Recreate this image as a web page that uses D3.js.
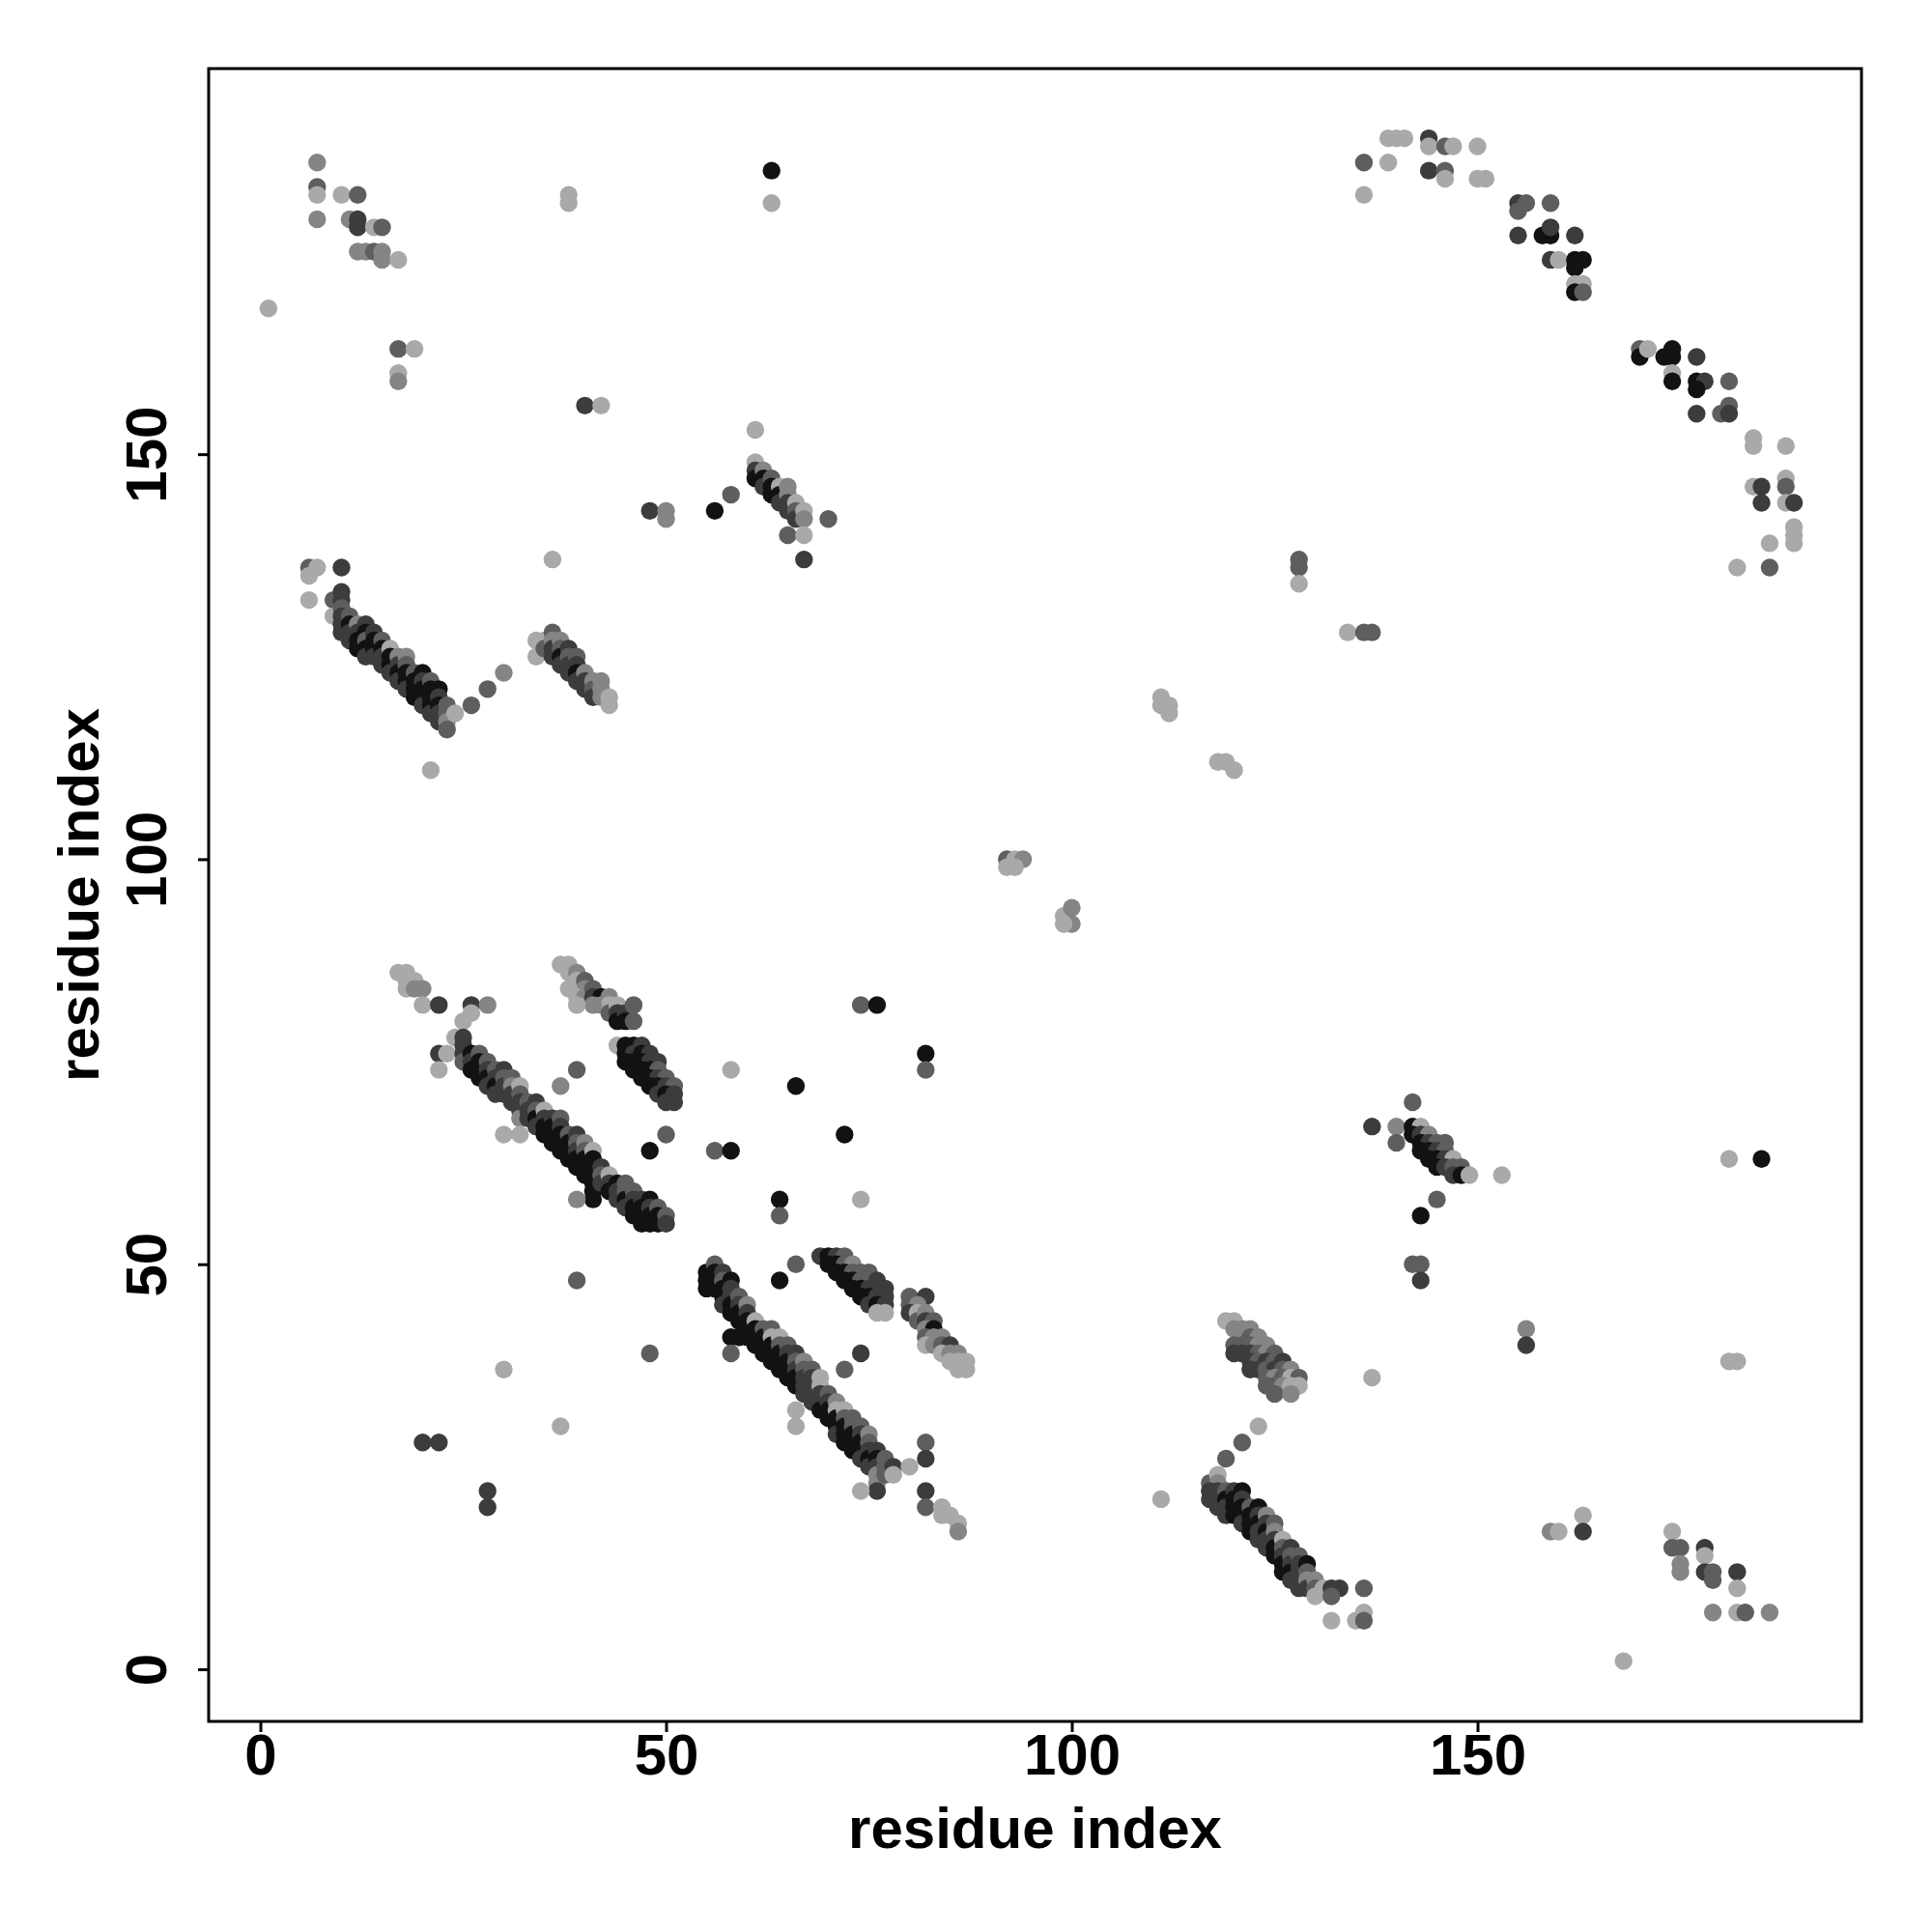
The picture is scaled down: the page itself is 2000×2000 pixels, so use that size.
<!DOCTYPE html>
<html><head><meta charset="utf-8">
<script src="https://cdn.jsdelivr.net/npm/d3@7"></script>
<style>body{margin:0;background:#fff}</style>
</head><body>
<svg id="chart" width="2000" height="2000"></svg>
<script>
// each contact: [residue i, residue j, shade class 0 (black) .. 4 (light gray)]
const topLeftContacts = [
[7,186,3],[7,183,2],[7,182,4],[7,179,3],[10,182,4],[12,182,2],[11,179,3],[12,179,1],[12,178,1],[14,178,4],[15,178,2],
[12,175,3],[13,175,3],[14,175,2],[15,175,3],[15,174,3],[17,174,4],[1,168,4],[17,163,2],[19,163,4],[17,160,4],[17,159,3],
[38,182,4],[38,181,4],[63,185,0],[63,181,4],[40,156,1],[42,156,4],[61,153,4]
];
const sheetB = [
[61,149,4],[61,148,1],[61,147,0],[62,148,3],[62,147,0],[62,146,1],[63,147,2],[63,146,0],[63,145,0],[64,146,4],[64,145,0],[64,144,1],
[65,146,3],[65,145,3],[65,144,1],[65,143,1],[66,144,4],[66,143,2],[66,142,1],[67,143,4],[67,142,3],[65,140,2],[67,140,4],[67,137,1],
[70,142,2],[58,145,2],[56,143,0],[48,143,1],[50,143,3],[50,142,3]
];
const sheetA = [
[6,136,2],[7,136,4],[6,135,4],[10,136,1],[6,132,4],[9,132,2],[9,130,4],[10,133,1],[10,132,1],
[10,131,2],[10,130,1],[10,129,1],[10,128,1],[11,130,2],[11,129,0],[11,128,1],[11,127,1],
[12,129,3],[12,128,1],[12,127,0],[12,126,0],[13,129,1],[13,128,0],[13,127,2],[13,126,0],[13,125,1],
[14,128,1],[14,127,0],[14,126,0],[14,125,1],[15,127,2],[15,126,0],[15,125,1],[15,124,1],
[16,126,4],[16,125,0],[16,124,0],[16,123,1],[17,125,3],[17,124,1],[17,123,0],[17,122,1],
[18,125,3],[18,124,2],[18,123,0],[18,122,0],[18,121,1],[19,123,2],[19,122,0],[19,121,0],[19,120,0],
[20,123,0],[20,122,1],[20,121,0],[20,120,0],[20,119,1],[21,122,2],[21,121,0],[21,120,0],[21,119,0],[21,118,1],
[22,121,0],[22,120,1],[22,119,0],[22,118,1],[22,117,1],[23,119,2],[23,118,2],[23,117,3],[23,116,2],[24,118,4],
[26,119,2],[28,121,2],[30,123,3],[21,111,4],[36,137,4]
];
const sheetC = [
[34,127,4],[34,125,4],[35,127,4],[35,126,2],[36,128,2],[36,127,3],[36,126,1],[36,125,1],[37,127,3],[37,126,2],[37,125,0],[37,124,1],
[38,126,1],[38,125,2],[38,124,1],[38,123,1],[39,125,2],[39,124,1],[39,123,0],[39,122,1],[40,123,3],[40,122,1],[40,121,1],
[41,122,3],[41,121,2],[41,120,1],[42,122,3],[42,121,3],[42,120,3],[43,120,4],[43,119,4]
];
const arcContacts = [
[139,189,4],[140,189,4],[141,189,4],[144,189,1],[144,188,4],[146,188,2],[147,188,4],[150,188,4],[136,186,2],[139,186,4],
[144,185,1],[146,185,2],[146,184,4],[150,184,4],[151,184,4],[136,182,4],[155,181,1],[156,181,2],[155,180,2],[159,181,2],
[155,177,1],[158,177,0],[159,177,0],[159,178,1],[162,177,1],[159,174,1],[160,174,4],[162,174,0],[163,174,0],[162,173,0],
[162,171,4],[163,171,4],[162,170,0],[163,170,2],[170,163,2],[170,162,0],[171,163,4],[173,162,0],[174,163,0],[174,162,0],
[177,162,1],[174,160,4],[174,159,0],[177,159,0],[178,159,1],[177,158,0],[181,159,2],[181,156,2],[180,155,2],[181,155,1],
[177,155,1],[184,152,4],[184,151,4],[188,151,4],[184,146,4],[185,146,1],[185,144,1],[188,147,4],[188,146,2],[188,144,4],
[189,144,1],[189,141,4],[189,140,4],[189,139,4],[186,139,4],[182,136,4],[186,136,2]
];
const middleContacts = [
[128,137,2],[128,136,2],[128,134,4],[134,128,4],[136,128,2],[137,128,2],[111,120,4],[111,119,4],[112,119,4],[112,118,4],
[118,112,4],[119,112,4],[120,111,4],[92,100,2],[93,100,4],[94,100,3],[92,99,4],[93,99,4],[99,93,4],[100,94,3],[100,92,3],[99,92,4]
];
const helixUpper = [
[17,86,4],[18,86,4],[18,85,4],[19,85,4],[18,84,4],[19,84,3],[20,84,3],[20,82,4],[22,82,1],[26,82,1],[28,82,3],[26,81,4],
[25,80,4],[24,78,4],[25,78,1],[22,76,1],[23,76,4],[22,74,4],
[37,87,4],[38,87,4],[38,86,4],[39,86,3],[39,85,4],[40,85,2],[40,84,3],[38,84,4],[39,83,4],[40,83,3],[41,84,2],[41,83,1],
[42,83,0],[42,82,3],[43,83,3],[43,82,4],[43,81,2],[44,82,4],[44,81,1],[44,80,0],[45,81,1],[45,80,0],[46,82,2],[46,80,2],[41,82,3],[39,82,4],
[44,77,4],[45,77,0],[46,77,0],[47,77,1],[45,76,0],[46,76,1],[47,76,0],[48,76,1],[45,75,0],[46,75,0],[47,75,0],[48,75,1],[49,75,1],
[46,74,0],[47,74,0],[48,74,0],[49,74,2],[47,73,0],[48,73,0],[49,73,1],[50,73,2],[48,72,0],[49,72,0],[50,72,1],[51,72,2],
[49,71,1],[50,71,0],[51,71,1],[50,70,1],[51,70,1]
];
const sheetD = [
[25,77,1],[25,76,1],[25,75,2],[26,76,0],[26,75,1],[26,74,0],[27,76,2],[27,75,0],[27,74,0],[27,73,0],
[28,75,2],[28,74,1],[28,73,0],[28,72,1],[29,74,2],[29,73,1],[29,72,0],[29,71,1],[30,74,1],[30,73,2],[30,72,1],[30,71,1],
[31,73,2],[31,72,3],[31,71,1],[31,70,1],[32,72,4],[32,71,2],[32,70,1],[32,69,1],[32,68,3],[33,70,2],[33,69,1],[33,68,1],
[34,70,1],[34,69,2],[34,68,0],[34,67,1],[35,69,4],[35,68,1],[35,67,0],[35,66,0],[36,68,1],[36,67,0],[36,66,0],[36,65,0],
[37,68,2],[37,67,1],[37,66,0],[37,65,0],[37,64,0],[38,66,2],[38,65,0],[38,64,0],[38,63,0],
[39,66,1],[39,65,2],[39,64,1],[39,63,0],[39,62,0],[40,65,3],[40,64,2],[40,63,0],[40,62,0],[40,61,0],
[41,64,4],[41,63,0],[41,62,0],[41,61,0],[41,60,0],[41,59,0],[41,58,0],[42,62,1],[42,61,2],[42,60,1],
[43,61,4],[43,60,1],[43,59,0],[44,60,0],[44,59,1],[44,58,1],[45,60,2],[45,59,2],[45,58,0],[45,57,1],
[46,59,2],[46,58,1],[46,57,0],[46,56,0],[47,58,1],[47,57,0],[47,56,0],[47,55,0],[48,58,0],[48,57,1],[48,56,0],[48,55,0],
[49,57,2],[49,56,0],[49,55,0],[50,56,2],[50,55,1],
[30,66,4],[32,66,4],[37,72,3],[39,74,2],[39,58,3]
];
const sheetE = [
[55,49,0],[55,48,0],[55,47,0],[56,50,2],[56,49,0],[56,48,0],[56,47,0],[57,49,1],[57,48,2],[57,47,0],[57,46,0],[57,45,1],
[58,48,0],[58,47,1],[58,46,1],[58,45,0],[58,44,0],[58,41,0],[59,46,2],[59,45,1],[59,44,0],[59,43,0],[59,41,0],
[60,45,3],[60,44,1],[60,43,0],[60,42,0],[60,41,0],[61,43,4],[61,42,0],[61,41,0],[61,40,0],[62,42,2],[62,41,0],[62,40,0],[62,39,0],
[63,42,2],[63,41,4],[63,40,0],[63,39,0],[63,38,0],[64,41,4],[64,40,2],[64,39,0],[64,38,0],[64,37,0],
[65,40,2],[65,39,1],[65,38,0],[65,37,0],[65,36,0],[66,39,1],[66,38,2],[66,37,1],[66,36,0],[66,35,0],
[67,38,3],[67,37,2],[67,36,1],[67,35,1],[67,34,1],[68,37,2],[68,36,1],[68,35,1],[68,34,1],[68,33,1],
[69,36,4],[69,35,4],[69,34,1],[69,33,1],[69,32,0],[70,34,2],[70,33,1],[70,32,0],[70,31,0],
[71,33,3],[71,32,4],[71,31,0],[71,30,0],[71,29,1],[72,32,4],[72,31,2],[72,30,0],[72,29,0],[72,28,0],
[73,31,2],[73,30,2],[73,29,0],[73,28,0],[73,27,0],[74,30,2],[74,29,1],[74,28,0],[74,27,0],[74,26,1],
[75,29,3],[75,28,2],[75,27,1],[75,26,0],[75,25,1],[76,27,1],[76,26,0],[76,25,1],[76,24,3],[76,23,3],[76,22,1],
[77,26,2],[77,25,2],[77,24,2],[78,25,1],[78,24,4],
[80,25,4],[74,22,4],[66,32,4],[66,30,4],[72,37,2],[74,39,1],[64,48,0],[66,50,2],[58,39,2],[48,39,2],[39,48,2]
];
const sheetF = [
[69,51,1],[70,51,0],[71,51,1],[72,51,2],[70,50,0],[71,50,0],[72,50,2],[73,50,3],[71,49,0],[72,49,0],[73,49,2],[74,49,2],[75,49,2],
[72,48,0],[73,48,0],[74,48,2],[75,48,2],[76,48,1],[73,47,0],[74,47,0],[75,47,1],[76,47,1],[77,47,1],
[74,46,0],[75,46,0],[76,46,1],[77,46,1],[75,45,1],[76,45,0],[77,45,1],[76,44,4],[77,44,4],
[80,46,2],[82,46,1],[80,45,2],[81,45,3],[80,44,1],[81,44,4],[81,43,2],[82,44,3],[82,43,1],[83,43,2],[82,42,3],[83,42,0],
[82,41,2],[83,41,3],[84,41,3],[82,40,4],[83,40,3],[84,40,2],[85,40,1],[84,39,4],[85,39,3],[86,39,3],[85,38,4],[86,38,4],
[87,38,4],[86,37,4],[87,37,4],
[82,28,2],[82,26,1],[82,22,1],[82,20,2],[84,20,4],[84,19,4],[85,19,4],[86,18,4],[86,17,3]
];
const scatteredLow = [
[74,82,2],[76,82,0],[82,76,0],[82,74,2],[58,74,4],[66,72,0],[72,66,0],[56,64,2],[58,64,0],[64,58,0],[64,56,2],[74,58,4],
[48,64,0],[50,66,2],[20,28,1],[22,28,1],[28,22,1],[28,20,1],[30,37,4],[37,30,4]
];
const sheetG = [
[142,70,2],[137,67,1],[140,67,3],[140,65,2],[142,67,0],[143,67,4],[142,66,0],[143,66,1],[144,66,3],[143,65,0],[144,65,1],
[145,65,2],[146,65,2],[143,64,0],[144,64,0],[145,64,1],[146,64,2],[144,63,0],[145,63,0],[146,63,1],[147,63,4],
[145,62,0],[146,62,1],[147,62,2],[148,62,2],[147,61,1],[148,61,0],[149,61,4],[153,61,4],[145,58,2],[143,56,0],
[142,50,2],[143,50,2],[143,48,1],[156,42,3],[156,40,1],[137,36,4],[181,63,4],[185,63,0],[181,38,4],[182,38,4]
];
const sheetH = [
[119,43,4],[120,43,4],[120,42,3],[121,42,3],[122,42,3],[121,41,3],[122,41,2],[123,41,3],[120,40,2],[121,40,2],[122,40,2],
[123,40,3],[124,40,3],[120,39,1],[121,39,1],[122,39,1],[123,39,2],[124,39,3],[125,39,2],[122,38,1],[123,38,2],[124,38,1],
[125,38,2],[126,38,1],[122,37,1],[123,37,1],[124,37,2],[125,37,1],[126,37,2],[127,37,3],[124,36,2],[125,36,3],[126,36,2],
[127,36,4],[128,36,2],[124,35,2],[125,35,2],[126,35,3],[127,35,4],[128,35,4],[125,34,2],[127,34,3],
[123,30,4],[121,28,2],[119,26,2],[111,21,4]
];
const sheetI = [
[117,23,2],[118,24,4],[118,23,3],[117,22,1],[117,21,1],[118,22,1],[118,21,1],[118,20,1],[119,22,2],[119,21,0],[119,20,1],[119,19,1],
[120,22,1],[120,21,0],[120,20,0],[120,19,0],[121,22,0],[121,21,1],[121,20,0],[121,19,0],[121,18,1],
[122,20,2],[122,19,0],[122,18,0],[122,17,0],[123,20,0],[123,19,1],[123,18,0],[123,17,1],[123,16,1],
[124,19,3],[124,18,1],[124,17,0],[124,16,1],[124,15,1],[125,18,2],[125,17,3],[125,16,1],[125,15,0],[125,14,0],
[126,16,4],[126,15,2],[126,14,1],[126,13,0],[126,12,0],[127,15,1],[127,14,2],[127,13,1],[127,12,0],[127,11,1],
[128,14,2],[128,13,1],[128,12,1],[128,11,1],[128,10,1],[129,13,0],[129,12,2],[129,11,3],[129,10,1],
[130,11,3],[130,10,2],[130,9,4],[131,10,4],[132,10,1],[133,10,1],[132,9,2],[136,10,2],[132,6,4],[135,6,4],[136,7,4],[136,6,2]
];
const lowRightContacts = [
[159,17,3],[160,17,4],[163,19,4],[163,17,1],[174,17,4],[174,15,2],[175,15,2],[175,13,3],[175,12,3],[178,15,1],[178,14,4],
[178,12,1],[179,12,2],[179,11,2],[182,12,1],[182,10,4],[179,7,3],[182,7,4],[183,7,2],[186,7,3],[168,1,4]
];
const shadeColors = ["#121212","#3c3c3c","#5e5e5e","#858585","#a9a9a9"];
const xTicks = [0,50,100,150];
const yTicks = [0,50,100,150];
const xLabel = "residue index";
const yLabel = "residue index";

const allContacts = [].concat(topLeftContacts, sheetB, sheetA, sheetC, arcContacts, middleContacts,
  helixUpper, sheetD, sheetE, sheetF, scatteredLow, sheetG, sheetH, sheetI, lowRightContacts);

const L = 216, R = 1927, T = 71, B = 1782;
const svg = d3.select("#chart");
const x = d3.scaleLinear().domain([-6.37, 197.32]).range([L, R]);
const y = d3.scaleLinear().domain([-6.44, 197.6]).range([B, T]);
const font = "'Liberation Sans', Arial, Helvetica, sans-serif";

svg.append("g").selectAll("circle").data(allContacts).join("circle")
  .attr("cx", d => x(d[0])).attr("cy", d => y(d[1])).attr("r", 9.2)
  .attr("fill", d => shadeColors[d[2]]);

svg.append("rect").attr("x", L).attr("y", T).attr("width", R - L).attr("height", B - T)
  .attr("fill", "none").attr("stroke", "#000").attr("stroke-width", 3);

const gx = svg.append("g").attr("transform", `translate(0,${B})`)
  .call(d3.axisBottom(x).tickValues(xTicks).tickSize(11).tickFormat(d3.format("d")));
gx.select(".domain").remove();
gx.selectAll("line").attr("stroke", "#000").attr("stroke-width", 3);
gx.selectAll("text").attr("dy", null).attr("y", 55)
  .style("font-family", font).style("font-weight", "bold").style("font-size", "60px").attr("fill", "#000");

const gy = svg.append("g").attr("transform", `translate(${L},0)`)
  .call(d3.axisLeft(y).tickValues(yTicks).tickSize(11).tickFormat(d3.format("d")));
gy.select(".domain").remove();
gy.selectAll("line").attr("stroke", "#000").attr("stroke-width", 3);
gy.selectAll("text").attr("x", null).attr("dy", null).attr("text-anchor", "middle")
  .attr("transform", "translate(-44,0) rotate(-90)")
  .style("font-family", font).style("font-weight", "bold").style("font-size", "60px").attr("fill", "#000");

svg.append("text").attr("x", (L + R) / 2).attr("y", 1913).attr("text-anchor", "middle")
  .style("font-family", font).style("font-weight", "bold").style("font-size", "60px").text(xLabel);
svg.append("text").attr("transform", `translate(102,${(T + B) / 2}) rotate(-90)`).attr("text-anchor", "middle")
  .style("font-family", font).style("font-weight", "bold").style("font-size", "60px").text(yLabel);
</script>
</body></html>
